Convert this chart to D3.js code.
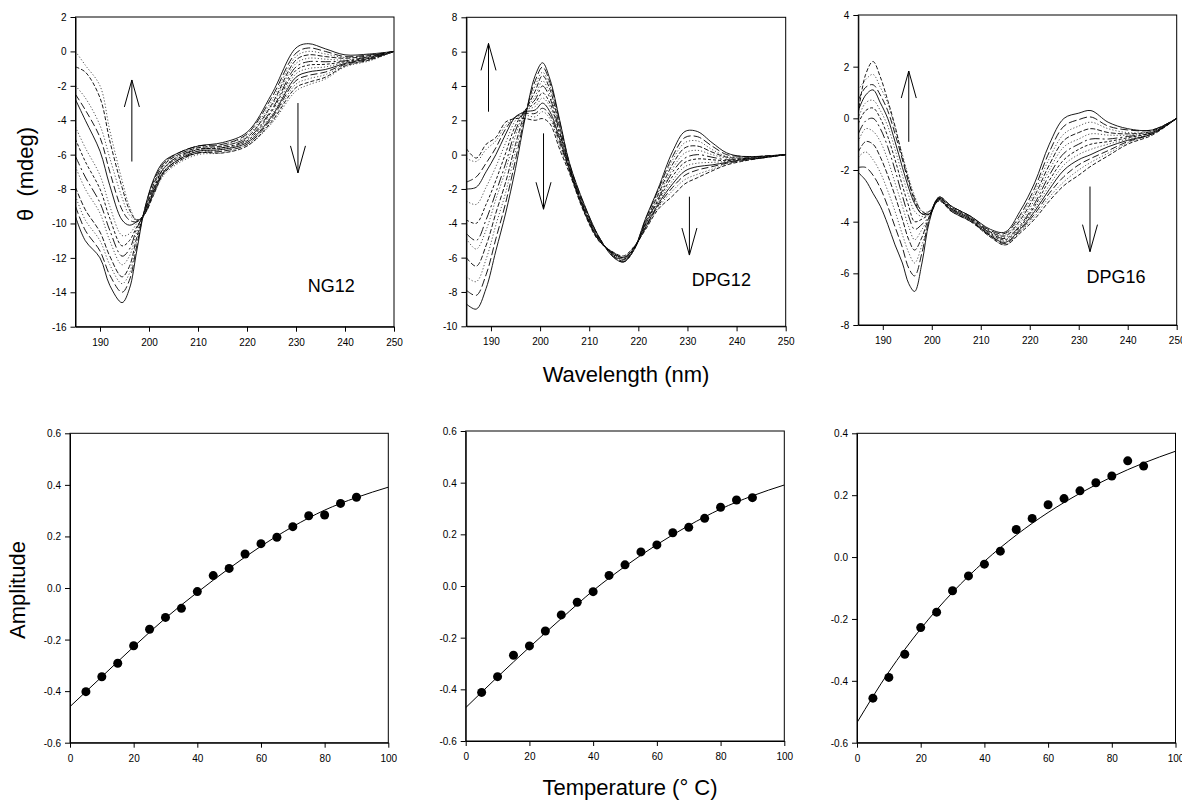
<!DOCTYPE html>
<html lang="en">
<head>
<meta charset="UTF-8">
<title>CD spectra and amplitude vs temperature</title>
<script src="https://cdnjs.cloudflare.com/ajax/libs/d3/7.8.5/d3.min.js"></script>
<style>
  body { margin: 0; background: #fff; }
  svg { display: block; font-family: Arial, "Liberation Sans", sans-serif; }
  .axis text { font-size: 10px; fill: #000; }
  .axis path, .axis line { stroke: #000; }
  .big-label { font-size: 22px; fill: #000; white-space: pre; }
  .panel-name { font-size: 18px; fill: #000; }
</style>
</head>
<body>
<svg id="chart" width="1182" height="800"></svg>
<script>
// ---- CD spectra: wavelength grids (nm) and theta (mdeg), one row per wavelength,
// ---- one value per temperature scan inside a row (coldest first)
const ng12Wl = [185, 187, 190, 192, 194.5, 196, 197.5, 199, 201, 203, 206, 210, 215, 220, 225, 230, 232.5, 236, 240, 245, 250];
const ng12Theta = [
  [-9.6, -9.0, -8.4, -7.9, -6.7, -6.1, -5.1, -4.4, -2.8, -2.5, -2.0, -0.9, 0.0],
  [-11.0, -10.4, -9.8, -9.2, -8.0, -7.3, -6.4, -5.6, -4.0, -3.4, -2.7, -1.2, -0.8],
  [-12.0, -11.6, -11.0, -10.5, -9.4, -8.8, -8.0, -7.2, -5.8, -5.0, -4.3, -2.7, -2.0],
  [-13.6, -13.0, -12.4, -11.9, -11.0, -10.4, -9.7, -9.0, -7.8, -7.0, -6.2, -5.2, -4.6],
  [-14.6, -14.0, -13.5, -13.1, -12.4, -11.9, -11.3, -10.7, -9.8, -9.2, -8.5, -7.9, -7.5],
  [-13.8, -13.3, -12.9, -12.5, -11.9, -11.5, -11.0, -10.6, -10.1, -9.8, -9.5, -9.2, -9.0],
  [-11.6, -11.3, -11.0, -10.8, -10.5, -10.3, -10.2, -10.0, -9.9, -9.9, -9.8, -9.8, -9.8],
  [-9.3, -9.3, -9.4, -9.4, -9.4, -9.4, -9.5, -9.5, -9.5, -9.5, -9.5, -9.5, -9.5],
  [-7.4, -7.5, -7.6, -7.7, -7.8, -7.9, -8.0, -8.0, -8.1, -8.2, -8.2, -8.3, -8.3],
  [-6.4, -6.5, -6.5, -6.6, -6.7, -6.8, -6.8, -6.9, -7.0, -7.0, -7.1, -7.1, -7.2],
  [-5.9, -5.9, -6.0, -6.0, -6.1, -6.1, -6.2, -6.2, -6.3, -6.3, -6.4, -6.4, -6.5],
  [-5.5, -5.5, -5.6, -5.6, -5.7, -5.7, -5.7, -5.8, -5.8, -5.9, -5.9, -5.9, -6.0],
  [-5.3, -5.4, -5.4, -5.5, -5.5, -5.6, -5.6, -5.7, -5.7, -5.8, -5.8, -5.9, -5.9],
  [-4.7, -4.8, -4.9, -5.0, -5.0, -5.1, -5.2, -5.2, -5.3, -5.4, -5.4, -5.5, -5.5],
  [-2.5, -2.7, -2.9, -3.1, -3.2, -3.4, -3.5, -3.7, -3.8, -3.9, -4.0, -4.1, -4.2],
  [0.2, -0.1, -0.3, -0.5, -0.7, -0.9, -1.1, -1.3, -1.5, -1.7, -1.9, -2.1, -2.3],
  [0.45, 0.2, 0.0, -0.2, -0.4, -0.6, -0.8, -1.0, -1.2, -1.4, -1.6, -1.8, -1.95],
  [0.15, 0.0, -0.15, -0.3, -0.45, -0.6, -0.75, -0.9, -1.05, -1.2, -1.35, -1.5, -1.6],
  [-0.2, -0.3, -0.35, -0.4, -0.5, -0.55, -0.6, -0.65, -0.7, -0.75, -0.8, -0.85, -0.9],
  [-0.15, -0.2, -0.2, -0.25, -0.3, -0.3, -0.35, -0.4, -0.4, -0.45, -0.5, -0.5, -0.55],
  [0, 0, 0, 0, 0, 0, 0, 0, 0, 0, 0, 0, 0]
];

const dpg12Wl = [185, 187, 189, 191, 193, 195, 197, 199, 200.5, 202, 204, 206, 209, 212, 215, 217, 219, 221.5, 224, 227, 229.5, 232, 235, 238, 241, 245, 250];
const dpg12Theta = [
  [-8.7, -7.9, -7.1, -6.0, -4.9, -4.6, -3.8, -2.7, -2.0, -1.6, -0.2, 0.35],
  [-9.0, -8.2, -7.4, -6.5, -5.5, -5.0, -4.0, -2.9, -1.9, -1.3, -0.4, -0.2],
  [-7.8, -7.0, -6.1, -5.3, -4.4, -3.8, -2.9, -1.9, -1.0, -0.5, 0.3, 0.6],
  [-5.6, -4.9, -4.1, -3.4, -2.6, -2.2, -1.5, -0.7, 0.0, 0.4, 0.8, 1.0],
  [-3.4, -2.8, -2.2, -1.6, -0.9, -0.5, 0.1, 0.7, 1.2, 1.5, 1.7, 1.9],
  [-0.8, -0.3, 0.2, 0.6, 1.1, 1.4, 1.7, 2.0, 2.2, 2.2, 2.2, 2.1],
  [2.2, 2.3, 2.4, 2.5, 2.6, 2.6, 2.6, 2.6, 2.5, 2.4, 2.3, 2.1],
  [4.6, 4.3, 4.0, 3.7, 3.4, 3.2, 3.0, 2.8, 2.6, 2.4, 2.2, 2.0],
  [5.35, 5.1, 4.8, 4.6, 4.3, 4.0, 3.6, 3.3, 3.0, 2.7, 2.5, 2.1],
  [4.4, 4.2, 4.0, 3.8, 3.5, 3.3, 3.0, 2.8, 2.5, 2.3, 2.1, 1.8],
  [2.0, 1.9, 1.8, 1.6, 1.5, 1.3, 1.2, 1.0, 0.9, 0.7, 0.5, 0.3],
  [-0.5, -0.55, -0.6, -0.65, -0.7, -0.75, -0.8, -0.85, -0.9, -0.95, -1.0, -1.1],
  [-2.9, -2.95, -3.0, -3.05, -3.1, -3.15, -3.2, -3.25, -3.3, -3.3, -3.35, -3.4],
  [-4.8, -4.8, -4.85, -4.85, -4.9, -4.9, -4.95, -4.95, -5.0, -5.0, -5.0, -5.05],
  [-6.0, -5.95, -5.9, -5.9, -5.85, -5.85, -5.8, -5.8, -5.75, -5.75, -5.7, -5.7],
  [-6.25, -6.25, -6.2, -6.2, -6.15, -6.1, -6.1, -6.05, -6.0, -6.0, -5.95, -5.9],
  [-5.6, -5.6, -5.6, -5.6, -5.6, -5.55, -5.55, -5.5, -5.5, -5.45, -5.4, -5.4],
  [-3.7, -3.75, -3.8, -3.9, -3.95, -4.0, -4.05, -4.1, -4.2, -4.25, -4.3, -4.35],
  [-2.0, -2.1, -2.2, -2.35, -2.5, -2.6, -2.7, -2.8, -2.9, -3.0, -3.1, -3.2],
  [0.2, -0.1, -0.3, -0.55, -0.8, -1.0, -1.25, -1.5, -1.7, -1.9, -2.1, -2.4],
  [1.35, 1.0, 0.7, 0.4, 0.1, -0.2, -0.45, -0.7, -0.95, -1.2, -1.45, -1.7],
  [1.35, 1.05, 0.8, 0.5, 0.25, 0.0, -0.25, -0.5, -0.7, -0.9, -1.15, -1.35],
  [0.7, 0.5, 0.3, 0.15, 0.0, -0.15, -0.3, -0.45, -0.6, -0.7, -0.85, -0.95],
  [0.1, 0.0, -0.1, -0.15, -0.2, -0.3, -0.35, -0.4, -0.45, -0.5, -0.55, -0.6],
  [-0.1, -0.1, -0.15, -0.2, -0.2, -0.25, -0.25, -0.3, -0.3, -0.35, -0.35, -0.4],
  [-0.1, -0.1, -0.1, -0.1, -0.15, -0.15, -0.15, -0.15, -0.2, -0.2, -0.2, -0.2],
  [0, 0, 0, 0, 0, 0, 0, 0, 0, 0, 0, 0]
];

const dpg16Wl = [185, 186.5, 188, 189.5, 191, 192.5, 194, 195.3, 196.5, 198, 199.5, 201.5, 204, 208, 212, 215, 218, 221, 224, 227, 230, 232.5, 236, 240, 245, 250];
const dpg16Theta = [
  [-2.1, -1.9, -1.5, -1.3, -0.9, -0.6, -0.2, 0.0, 0.3, 0.7, 1.1, 0.2],
  [-2.4, -1.9, -1.3, -0.9, -0.4, -0.1, 0.3, 0.6, 0.9, 1.2, 1.5, 1.7],
  [-2.9, -2.2, -1.6, -1.0, -0.5, 0.0, 0.4, 0.7, 1.1, 1.3, 1.7, 2.2],
  [-3.4, -2.7, -2.1, -1.5, -0.9, -0.4, 0.0, 0.3, 0.6, 0.9, 1.2, 1.6],
  [-4.1, -3.4, -2.8, -2.2, -1.6, -1.1, -0.7, -0.3, 0.0, 0.3, 0.6, 0.7],
  [-4.9, -4.2, -3.6, -3.0, -2.5, -2.0, -1.6, -1.2, -0.9, -0.6, -0.4, -0.3],
  [-5.6, -5.0, -4.5, -3.9, -3.4, -3.0, -2.6, -2.2, -1.9, -1.6, -1.4, -1.5],
  [-6.4, -5.8, -5.2, -4.7, -4.2, -3.8, -3.4, -3.0, -2.7, -2.5, -2.3, -2.4],
  [-6.7, -6.1, -5.6, -5.1, -4.7, -4.3, -4.0, -3.6, -3.3, -3.1, -3.0, -3.2],
  [-5.6, -5.2, -4.9, -4.6, -4.3, -4.1, -3.9, -3.8, -3.7, -3.6, -3.6, -3.7],
  [-4.0, -3.9, -3.9, -3.8, -3.8, -3.8, -3.7, -3.7, -3.7, -3.7, -3.6, -3.6],
  [-3.05, -3.05, -3.05, -3.1, -3.1, -3.1, -3.1, -3.15, -3.15, -3.15, -3.2, -3.2],
  [-3.4, -3.4, -3.45, -3.45, -3.5, -3.5, -3.5, -3.55, -3.55, -3.6, -3.6, -3.6],
  [-3.8, -3.8, -3.85, -3.85, -3.9, -3.9, -3.9, -3.95, -3.95, -4.0, -4.0, -4.0],
  [-4.3, -4.35, -4.4, -4.4, -4.45, -4.45, -4.5, -4.5, -4.55, -4.55, -4.6, -4.6],
  [-4.4, -4.45, -4.5, -4.55, -4.6, -4.65, -4.7, -4.75, -4.8, -4.85, -4.9, -4.9],
  [-3.6, -3.75, -3.85, -3.95, -4.05, -4.15, -4.2, -4.25, -4.3, -4.35, -4.4, -4.45],
  [-2.5, -2.7, -2.85, -3.0, -3.15, -3.3, -3.4, -3.5, -3.6, -3.7, -3.8, -3.9],
  [-1.0, -1.3, -1.55, -1.8, -2.0, -2.2, -2.4, -2.6, -2.75, -2.9, -3.05, -3.2],
  [0.0, -0.3, -0.6, -0.85, -1.1, -1.35, -1.6, -1.8, -2.0, -2.25, -2.45, -2.6],
  [0.2, -0.05, -0.3, -0.55, -0.8, -1.0, -1.2, -1.4, -1.6, -1.8, -2.0, -2.2],
  [0.3, 0.05, -0.15, -0.4, -0.6, -0.8, -1.0, -1.2, -1.4, -1.55, -1.7, -1.85],
  [-0.15, -0.3, -0.4, -0.55, -0.65, -0.8, -0.9, -1.0, -1.1, -1.25, -1.35, -1.45],
  [-0.4, -0.45, -0.55, -0.6, -0.65, -0.7, -0.75, -0.8, -0.85, -0.9, -0.95, -1.0],
  [-0.45, -0.45, -0.5, -0.5, -0.55, -0.55, -0.55, -0.6, -0.6, -0.6, -0.6, -0.65],
  [0, 0, 0, 0, 0, 0, 0, 0, 0, 0, 0, 0]
];

// trend arrows [wavelength, theta from, theta to]
const ng12Arrows = [[196.5, -6.4, -1.66], [230.4, -3.0, -7.06]];
const dpg12Arrows = [[189.5, 2.5, 6.48], [200.7, 1.24, -3.18], [230.4, -2.45, -5.85]];
const dpg16Arrows = [[195.3, -0.91, 1.83], [232.3, -2.64, -5.16]];

// ---- amplitude vs temperature
const temps = [5, 10, 15, 20, 25, 30, 35, 40, 45, 50, 55, 60, 65, 70, 75, 80, 85, 90];
const ng12Amp = [-0.402, -0.344, -0.292, -0.224, -0.160, -0.114, -0.079, -0.014, 0.048, 0.076, 0.132, 0.172, 0.197, 0.238, 0.280, 0.283, 0.328, 0.352];
const dpg12Amp = [-0.412, -0.351, -0.268, -0.232, -0.174, -0.112, -0.063, -0.022, 0.041, 0.082, 0.132, 0.159, 0.206, 0.227, 0.262, 0.305, 0.333, 0.342];
const dpg16Amp = [-0.456, -0.389, -0.314, -0.228, -0.178, -0.109, -0.061, -0.023, 0.019, 0.089, 0.125, 0.169, 0.189, 0.214, 0.240, 0.262, 0.311, 0.294];

const fitTemps = [0, 10, 20, 30, 40, 50, 60, 70, 80, 90, 100];
const ng12Fit = [-0.460, -0.344, -0.228, -0.117, -0.017, 0.076, 0.162, 0.238, 0.302, 0.351, 0.391];
const dpg12Fit = [-0.471, -0.352, -0.237, -0.126, -0.018, 0.076, 0.160, 0.234, 0.298, 0.349, 0.391];
const dpg16Fit = [-0.535, -0.371, -0.232, -0.114, -0.014, 0.071, 0.144, 0.206, 0.259, 0.304, 0.342];

const svg = d3.select('#chart');
const fmtInt = d => String(d);
const fmtDec = d => d.toFixed(1);

// scan line styles, coldest first
const dashes = ['', '8,3', '1.2,2', '5,2', '1.2,2', '10,3,2,3', '3,2', '1.2,2', '', '7,3', '1.2,2', '4,2', '1.2,2'];

let clipId = 0;
function frame(box, x, y, xTicks, yTicks, xFmt, yFmt) {
  const g = svg.append('g');
  g.append('g').attr('class', 'axis')
    .attr('transform', `translate(0,${box.y1})`)
    .call(d3.axisBottom(x).tickValues(xTicks).tickFormat(xFmt)
      .tickSize(5).tickSizeOuter(0).tickPadding(7));
  g.append('g').attr('class', 'axis')
    .attr('transform', `translate(${box.x0},0)`)
    .call(d3.axisLeft(y).tickValues(yTicks).tickFormat(yFmt)
      .tickSize(5).tickSizeOuter(0).tickPadding(4))
    .selectAll('text').attr('dy', '0.35em');
  g.append('rect')
    .attr('x', box.x0).attr('y', box.y0)
    .attr('width', box.x1 - box.x0).attr('height', box.y1 - box.y0)
    .attr('fill', 'none').attr('stroke', '#000').attr('stroke-width', 1);
}

function clip(box) {
  const id = 'clip' + (clipId++);
  svg.append('clipPath').attr('id', id).append('rect')
    .attr('x', box.x0).attr('y', box.y0)
    .attr('width', box.x1 - box.x0).attr('height', box.y1 - box.y0);
  return `url(#${id})`;
}

function spectraPanel(box, yDomain, yTicks, wl, rows, arrows, name, namePos) {
  const x = d3.scaleLinear().domain([185, 250]).range([box.x0, box.x1]);
  const y = d3.scaleLinear().domain(yDomain).range([box.y1, box.y0]);
  const scans = d3.transpose(rows);
  const line = d3.line()
    .x((d, i) => x(wl[i]))
    .y(d => y(d))
    .curve(d3.curveCatmullRom.alpha(0.5));

  svg.append('g').attr('clip-path', clip(box))
    .selectAll('path').data(scans).join('path')
      .attr('d', line)
      .attr('fill', 'none')
      .attr('stroke', (d, i) => dashes[i % dashes.length].startsWith('1.2') ? '#444' : '#000')
      .attr('stroke-width', 0.9)
      .attr('stroke-dasharray', (d, i) => dashes[i % dashes.length] || null);

  // open-headed arrows
  const head = 27, half = 7.5;
  const ag = svg.append('g').attr('stroke', '#000').attr('stroke-width', 1).attr('fill', 'none');
  arrows.forEach(([w, from, to]) => {
    const ax = x(w), y0 = y(from), y1 = y(to);
    const dir = y1 < y0 ? 1 : -1;
    ag.append('line').attr('x1', ax).attr('x2', ax).attr('y1', y0).attr('y2', y1);
    ag.append('path')
      .attr('d', `M${ax - half},${y1 + dir * head}L${ax},${y1}L${ax + half},${y1 + dir * head}`);
  });

  svg.append('text').attr('class', 'panel-name')
    .attr('x', x(namePos[0])).attr('y', y(namePos[1]))
    .text(name);

  frame(box, x, y, [190, 200, 210, 220, 230, 240, 250], yTicks, fmtInt, fmtInt);
}

function ampPanel(box, yDomain, yTicks, amps, fit) {
  const x = d3.scaleLinear().domain([0, 100]).range([box.x0, box.x1]);
  const y = d3.scaleLinear().domain(yDomain).range([box.y1, box.y0]);
  const line = d3.line()
    .x((d, i) => x(fitTemps[i]))
    .y(d => y(d))
    .curve(d3.curveMonotoneX);

  const g = svg.append('g').attr('clip-path', clip(box));
  g.append('path').datum(fit)
    .attr('d', line)
    .attr('fill', 'none').attr('stroke', '#000').attr('stroke-width', 1);
  g.selectAll('circle').data(amps).join('circle')
    .attr('cx', (d, i) => x(temps[i]))
    .attr('cy', d => y(d))
    .attr('r', 4.5)
    .attr('fill', '#000');

  frame(box, x, y, [0, 20, 40, 60, 80, 100], yTicks, fmtInt, fmtDec);
}

spectraPanel({x0: 75.5, x1: 394, y0: 17, y1: 326.7}, [-16, 2],
  [-16, -14, -12, -10, -8, -6, -4, -2, 0, 2], ng12Wl, ng12Theta, ng12Arrows, 'NG12', [232.4, -13.97]);
spectraPanel({x0: 466.4, x1: 785.7, y0: 17.3, y1: 326.3}, [-10, 8],
  [-10, -8, -6, -4, -2, 0, 2, 4, 6, 8], dpg12Wl, dpg12Theta, dpg12Arrows, 'DPG12', [230.9, -7.65]);
spectraPanel({x0: 858.3, x1: 1176.7, y0: 15, y1: 325}, [-8, 4],
  [-8, -6, -4, -2, 0, 2, 4], dpg16Wl, dpg16Theta, dpg16Arrows, 'DPG16', [231.6, -6.38]);

ampPanel({x0: 70, x1: 388.3, y0: 433.3, y1: 742.7}, [-0.6, 0.6],
  [-0.6, -0.4, -0.2, 0, 0.2, 0.4, 0.6], ng12Amp, ng12Fit);
ampPanel({x0: 465.7, x1: 784.3, y0: 431, y1: 741}, [-0.6, 0.6],
  [-0.6, -0.4, -0.2, 0, 0.2, 0.4, 0.6], dpg12Amp, dpg12Fit);
ampPanel({x0: 857, x1: 1175.5, y0: 433.3, y1: 742.7}, [-0.6, 0.4],
  [-0.6, -0.4, -0.2, 0, 0.2, 0.4], dpg16Amp, dpg16Fit);

// shared axis titles
svg.append('text').attr('class', 'big-label')
  .attr('transform', 'translate(33,174) rotate(-90)')
  .attr('text-anchor', 'middle')
  .text('θ  (mdeg)');
svg.append('text').attr('class', 'big-label')
  .attr('x', 626).attr('y', 381.5)
  .attr('text-anchor', 'middle')
  .text('Wavelength (nm)');
svg.append('text').attr('class', 'big-label')
  .attr('transform', 'translate(25,590) rotate(-90)')
  .attr('text-anchor', 'middle')
  .text('Amplitude');
svg.append('text').attr('class', 'big-label')
  .attr('x', 630).attr('y', 795)
  .attr('text-anchor', 'middle')
  .text('Temperature (° C)');
</script>
</body>
</html>
